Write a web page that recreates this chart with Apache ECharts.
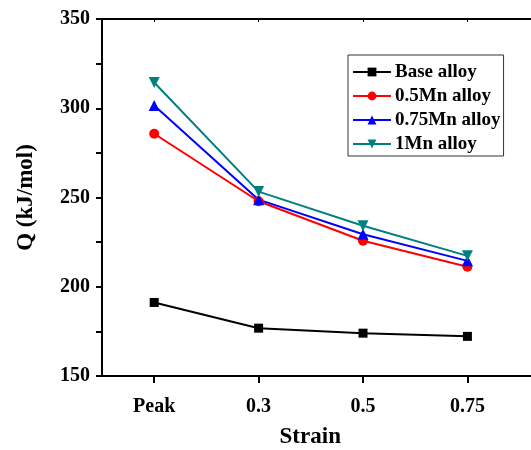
<!DOCTYPE html>
<html>
<head>
<meta charset="utf-8">
<script src="https://cdn.jsdelivr.net/npm/echarts@6/dist/echarts.min.js"></script>
<style>
  html, body { margin: 0; padding: 0; background: #ffffff; }
  #chart { width: 531px; height: 450px; }
</style>
</head>
<body>
<div id="chart"></div>
<script>
// Strain levels along the x axis
const strains = ['Peak', '0.3', '0.5', '0.75'];

// Activation energy Q (kJ/mol) for each alloy
const baseAlloy = [191.2, 176.8, 174.0, 172.2];
const mn05Alloy = [285.7, 247.9, 225.8, 211.2];
const mn075Alloy = [301.6, 248.8, 229.4, 214.5];
const mn1Alloy = [314.4, 253.3, 234.2, 217.3];

// Y axis ticks
const yTicks = [150, 200, 250, 300, 350];

const FONT = '"Liberation Serif", "Times New Roman", serif';
const positions = strains.map((_, i) => i);

function toPoints(values) {
  return values.map((v, i) => [i, v]);
}

function makeSeries(name, values, color, symbol, size, rotate) {
  return {
    name: name,
    type: 'line',
    data: toPoints(values),
    symbol: symbol,
    symbolSize: size,
    symbolRotate: rotate || 0,
    lineStyle: { color: color, width: 2 },
    itemStyle: { color: color },
    emphasis: { disabled: true },
    animation: false
  };
}

const chart = echarts.init(document.getElementById('chart'), null, { renderer: 'canvas' });

chart.setOption({
  backgroundColor: '#ffffff',
  animation: false,
  grid: { left: 102, top: 19, width: 438.5, height: 357, containLabel: false, outerBoundsMode: 'none' },
  legend: {
    left: 348,
    top: 55,
    orient: 'vertical',
    padding: [7, 3, 2, 4],
    itemGap: 4,
    itemWidth: 38,
    itemHeight: 11,
    borderColor: '#333333',
    borderWidth: 1,
    selectedMode: false,
    textStyle: { fontFamily: FONT, fontWeight: 'bold', fontSize: 19, color: '#000', lineHeight: 20, padding: [0, 0, 0, -1] },
    data: ['Base alloy', '0.5Mn alloy', '0.75Mn alloy', '1Mn alloy']
  },
  xAxis: [
    {
      type: 'value',
      min: -0.5,
      max: 3.7,
      position: 'bottom',
      name: 'Strain',
      nameLocation: 'middle',
      nameGap: 50,
      nameTextStyle: { fontFamily: FONT, fontWeight: 'bold', fontSize: 23, color: '#000', padding: [0, 22, 0, 0] },
      axisLine: { show: true, onZero: false, lineStyle: { color: '#000', width: 2 } },
      axisTick: { show: true, inside: false, length: 7, customValues: positions, lineStyle: { color: '#000', width: 2 } },
      axisLabel: {
        customValues: positions,
        margin: 21,
        fontFamily: FONT, fontWeight: 'bold', fontSize: 20, color: '#000',
        formatter: (v) => strains[Math.round(v)]
      },
      splitLine: { show: false }
    },
    {
      type: 'value',
      min: -0.5,
      max: 3.7,
      position: 'top',
      axisLine: { show: true, onZero: false, lineStyle: { color: '#000', width: 2 } },
      axisTick: { show: true, inside: true, length: 3, customValues: positions, lineStyle: { color: '#000', width: 1 } },
      axisLabel: { show: false },
      splitLine: { show: false }
    }
  ],
  yAxis: {
    type: 'value',
    min: yTicks[0],
    max: yTicks[yTicks.length - 1],
    interval: 50,
    name: 'Q (kJ/mol)',
    nameLocation: 'middle',
    nameGap: 64,
    nameRotate: 90,
    nameTextStyle: { fontFamily: FONT, fontWeight: 'bold', fontSize: 23, color: '#000' },
    axisLine: { show: true, onZero: false, lineStyle: { color: '#000', width: 2 } },
    axisTick: { show: true, inside: false, length: 6, lineStyle: { color: '#000', width: 2 } },
    minorTick: { show: true, splitNumber: 2, length: 6, lineStyle: { color: '#000', width: 2 } },
    axisLabel: { margin: 12, fontFamily: FONT, fontWeight: 'bold', fontSize: 20, color: '#000' },
    splitLine: { show: false }
  },
  series: [
    makeSeries('Base alloy', baseAlloy, '#000000', 'rect', 9),
    makeSeries('0.5Mn alloy', mn05Alloy, '#ff0000', 'circle', 10),
    makeSeries('0.75Mn alloy', mn075Alloy, '#0000ff', 'triangle', 11),
    makeSeries('1Mn alloy', mn1Alloy, '#008080', 'triangle', 11, 180)
  ]
});
</script>
</body>
</html>
